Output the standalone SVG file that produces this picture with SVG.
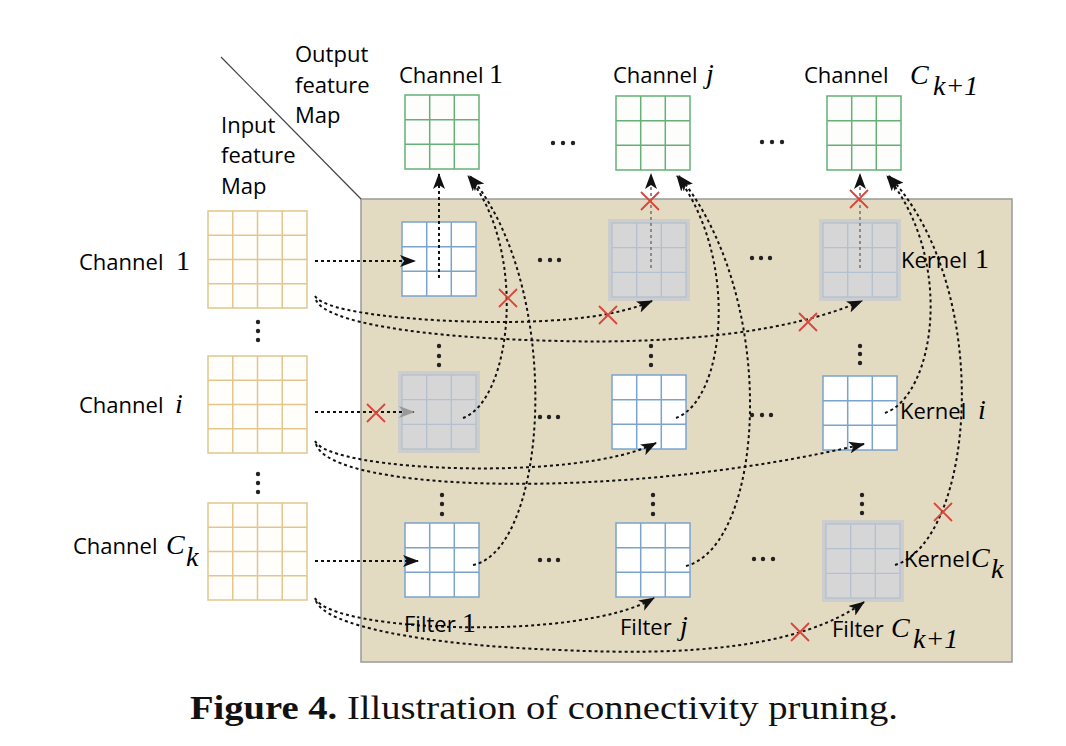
<svg xmlns="http://www.w3.org/2000/svg" xmlns:xlink="http://www.w3.org/1999/xlink" width="1066" height="746" viewBox="0 0 1066 746">
<style>
.sans{font-family:"Open Sans","Liberation Sans",sans-serif;font-size:22px;fill:#000}
.math{font-family:"Liberation Serif","DejaVu Serif",serif;font-size:28px;fill:#000}
.it{font-style:italic}
.dl{stroke:#111;stroke-width:2;stroke-dasharray:3 3;fill:none}
.dg{stroke:#8a8a8a;stroke-width:2;stroke-dasharray:3 3;fill:none}
.xm{stroke:#d8453b;stroke-width:1.8;fill:none}
.gin{fill:#fffefa;stroke:#e2c68c;stroke-width:1.5}
.gout{fill:#fdfdfb;stroke:#66b078;stroke-width:1.5}
.kw{fill:#fff;stroke:#7ba3cd;stroke-width:1.5}
.kgf{fill:#cdcdcd;stroke:none}
.kgi{fill:#d6d6d6;stroke:#b3c0cf;stroke-width:1.3}
.dt{fill:#222}
</style>
<defs>
<marker id="ah" viewBox="0 0 16 12" refX="15" refY="6" markerWidth="16" markerHeight="12" markerUnits="userSpaceOnUse" orient="auto">
<path d="M0,0 L16,6 L0,12 L4,6 z" fill="#111"/>
</marker>
<marker id="ahg" viewBox="0 0 16 12" refX="15" refY="6" markerWidth="16" markerHeight="12" markerUnits="userSpaceOnUse" orient="auto">
<path d="M0,0 L16,6 L0,12 L4,6 z" fill="#9a9a9a"/>
</marker>
<g id="xmark"><path class="xm" d="M-9,-9 L9,9 M9,-9 L-9,9"/></g>
<g id="kwhite"><rect class="kw" x="0" y="0" width="74" height="74"/><path class="kw" d="M24.7,0 V74 M49.3,0 V74 M0,24.7 H74 M0,49.3 H74"/></g>
<g id="kgray"><rect class="kgf" x="-4" y="-4" width="82" height="82"/><rect class="kgi" x="0" y="0" width="74" height="74"/><path class="kgi" d="M24.7,0 V74 M49.3,0 V74 M0,24.7 H74 M0,49.3 H74"/></g>
<g id="gout"><rect class="gout" x="0" y="0" width="74" height="74"/><path class="gout" d="M24.7,0 V74 M49.3,0 V74 M0,24.7 H74 M0,49.3 H74"/></g>
<g id="gin"><rect class="gin" x="0" y="0" width="99" height="97"/><path class="gin" d="M24.75,0 V97 M49.5,0 V97 M74.25,0 V97 M0,24.25 H99 M0,48.5 H99 M0,72.75 H99"/></g>
</defs>

<rect x="0" y="0" width="1066" height="746" fill="#fff"/>

<g id="panel">
<rect x="361" y="199" width="651" height="463" fill="#e3dac2" stroke="#9a9a9a" stroke-width="1.5"/>
<line x1="221" y1="57" x2="361" y2="199" stroke="#444" stroke-width="1.2"/>
</g>

<g id="header-labels">
<text class="sans" x="295" y="62">Output</text>
<text class="sans" x="295" y="93">feature</text>
<text class="sans" x="295" y="123">Map</text>
<text class="sans" x="221" y="133">Input</text>
<text class="sans" x="221" y="163">feature</text>
<text class="sans" x="221" y="194">Map</text>
</g>

<g id="out-ch1"><use xlink:href="#gout" x="405" y="95"/><text class="sans" x="399" y="83">Channel</text><text class="math" x="489" y="83">1</text></g>
<g id="out-chj"><use xlink:href="#gout" x="616" y="96"/><text class="sans" x="613" y="83">Channel</text><text class="math it" x="706" y="83">j</text></g>
<g id="out-chC"><use xlink:href="#gout" x="827" y="96"/><text class="sans" x="804" y="83">Channel</text><text class="math it" x="910" y="84" font-size="31">C</text><text class="math it" x="933" y="95">k+1</text></g>

<g id="in-ch1"><use xlink:href="#gin" x="208" y="211"/><text class="sans" x="79" y="270">Channel</text><text class="math" x="176" y="270">1</text></g>
<g id="in-chi"><use xlink:href="#gin" x="208" y="356"/><text class="sans" x="79" y="413">Channel</text><text class="math it" x="175" y="413">i</text></g>
<g id="in-chC"><use xlink:href="#gin" x="208" y="503"/><text class="sans" x="73" y="554">Channel</text><text class="math it" x="166" y="554" font-size="31">C</text><text class="math it" x="186" y="566">k</text></g>

<g id="k-1-1"><use xlink:href="#kwhite" x="402" y="222"/></g>
<g id="k-1-j"><use xlink:href="#kgray" x="612" y="223"/></g>
<g id="k-1-C"><use xlink:href="#kgray" x="823" y="223"/></g>
<g id="k-i-1"><use xlink:href="#kgray" x="402" y="375"/></g>
<g id="k-i-j"><use xlink:href="#kwhite" x="612" y="375"/></g>
<g id="k-i-C"><use xlink:href="#kwhite" x="823" y="376"/></g>
<g id="k-C-1"><use xlink:href="#kwhite" x="405" y="523"/></g>
<g id="k-C-j"><use xlink:href="#kwhite" x="616" y="523"/></g>
<g id="k-C-C"><use xlink:href="#kgray" x="826" y="524"/></g>

<g id="ellipses">
<circle class="dt" cx="553" cy="143" r="2.2"/><circle class="dt" cx="563" cy="143" r="2.2"/><circle class="dt" cx="573" cy="143" r="2.2"/>
<circle class="dt" cx="762" cy="142" r="2.2"/><circle class="dt" cx="772" cy="142" r="2.2"/><circle class="dt" cx="782" cy="142" r="2.2"/>
<circle class="dt" cx="540" cy="260" r="2.2"/><circle class="dt" cx="550" cy="260" r="2.2"/><circle class="dt" cx="559" cy="260" r="2.2"/>
<circle class="dt" cx="752" cy="258" r="2.2"/><circle class="dt" cx="761" cy="258" r="2.2"/><circle class="dt" cx="770" cy="258" r="2.2"/>
<circle class="dt" cx="540" cy="417" r="2.2"/><circle class="dt" cx="549" cy="417" r="2.2"/><circle class="dt" cx="558" cy="417" r="2.2"/>
<circle class="dt" cx="752" cy="415" r="2.2"/><circle class="dt" cx="762" cy="415" r="2.2"/><circle class="dt" cx="771" cy="415" r="2.2"/>
<circle class="dt" cx="540" cy="560" r="2.2"/><circle class="dt" cx="549" cy="560" r="2.2"/><circle class="dt" cx="558" cy="560" r="2.2"/>
<circle class="dt" cx="754" cy="559" r="2.2"/><circle class="dt" cx="763" cy="559" r="2.2"/><circle class="dt" cx="773" cy="559" r="2.2"/>
<circle class="dt" cx="258" cy="322" r="2.2"/><circle class="dt" cx="258" cy="331" r="2.2"/><circle class="dt" cx="258" cy="340" r="2.2"/>
<circle class="dt" cx="258" cy="474" r="2.2"/><circle class="dt" cx="258" cy="483" r="2.2"/><circle class="dt" cx="258" cy="492" r="2.2"/>
<circle class="dt" cx="439" cy="346" r="2.2"/><circle class="dt" cx="439" cy="356" r="2.2"/><circle class="dt" cx="439" cy="365" r="2.2"/>
<circle class="dt" cx="651" cy="346" r="2.2"/><circle class="dt" cx="651" cy="356" r="2.2"/><circle class="dt" cx="651" cy="365" r="2.2"/>
<circle class="dt" cx="860" cy="346" r="2.2"/><circle class="dt" cx="860" cy="354" r="2.2"/><circle class="dt" cx="860" cy="363" r="2.2"/>
<circle class="dt" cx="442" cy="495" r="2.2"/><circle class="dt" cx="442" cy="504" r="2.2"/><circle class="dt" cx="442" cy="514" r="2.2"/>
<circle class="dt" cx="653" cy="495" r="2.2"/><circle class="dt" cx="653" cy="504" r="2.2"/><circle class="dt" cx="653" cy="514" r="2.2"/>
<circle class="dt" cx="862" cy="495" r="2.2"/><circle class="dt" cx="862" cy="504" r="2.2"/><circle class="dt" cx="862" cy="513" r="2.2"/>
</g>

<g id="connectors">
<path class="dl" d="M315,261 H415" marker-end="url(#ah)"/>
<path class="dl" d="M315,296 C325,313 420,322 500,322 C570,322 620,315 652,301" marker-end="url(#ah)"/>
<path class="dl" d="M316,300 C325,322 420,338 560,341 C680,344 790,332 862,301" marker-end="url(#ah)"/>
<path class="dl" d="M315,412 H414" marker-end="url(#ahg)"/>
<path class="dl" d="M315,441 C330,472 580,482 656,443" marker-end="url(#ah)"/>
<path class="dl" d="M316,444 C330,492 620,502 864,444" marker-end="url(#ah)"/>
<path class="dl" d="M315,561 H418" marker-end="url(#ah)"/>
<path class="dl" d="M315,598 C330,632 580,642 654,598" marker-end="url(#ah)"/>
<path class="dl" d="M316,601 C325,625 420,645 560,650 C690,656 800,648 864,602" marker-end="url(#ah)"/>
<path class="dl" d="M439,278 V174" marker-end="url(#ah)"/>
<path class="dl" d="M463,418 C512,400 528,250 468,176" marker-end="url(#ah)"/>
<path class="dl" d="M473,565 C548,550 565,290 470,176" marker-end="url(#ah)"/>
<path class="dg" d="M651,268 V174" marker-end="url(#ah)"/>
<path class="dl" d="M676,418 C725,400 740,260 677,176" marker-end="url(#ah)"/>
<path class="dl" d="M686,566 C765,545 780,300 679,176" marker-end="url(#ah)"/>
<path class="dg" d="M860,268 V174" marker-end="url(#ah)"/>
<path class="dl" d="M885,413 C935,395 955,260 887,176" marker-end="url(#ah)"/>
<path class="dl" d="M895,565 C975,540 995,290 889,176" marker-end="url(#ah)"/>
</g>

<g id="prune-marks">
<use xlink:href="#xmark" x="650" y="201"/>
<use xlink:href="#xmark" x="859" y="199"/>
<use xlink:href="#xmark" x="508" y="298"/>
<use xlink:href="#xmark" x="608" y="315"/>
<use xlink:href="#xmark" x="808" y="322"/>
<use xlink:href="#xmark" x="376" y="413"/>
<use xlink:href="#xmark" x="943" y="512"/>
<use xlink:href="#xmark" x="800" y="632"/>
</g>

<g id="kernel-labels">
<text class="sans" x="901" y="268">Kernel</text><text class="math" x="975" y="268">1</text>
<text class="sans" x="900" y="419">Kernel</text><text class="math it" x="978" y="419">i</text>
<text class="sans" x="904" y="567">Kernel</text><text class="math it" x="971" y="567" font-size="31">C</text><text class="math it" x="991" y="578">k</text>
</g>
<g id="filter-labels">
<text class="sans" x="404" y="632">Filter</text><text class="math" x="462" y="632">1</text>
<text class="sans" x="620" y="635">Filter</text><text class="math it" x="680" y="635">j</text>
<text class="sans" x="832" y="637">Filter</text><text class="math it" x="891" y="637" font-size="31">C</text><text class="math it" x="913" y="648">k+1</text>
</g>

<g id="caption">
<text x="190" y="719" font-family="Liberation Serif, DejaVu Serif, serif" font-size="33" fill="#111" textLength="708" lengthAdjust="spacingAndGlyphs"><tspan font-weight="bold">Figure 4.</tspan> Illustration of connectivity pruning.</text>
</g>
</svg>
